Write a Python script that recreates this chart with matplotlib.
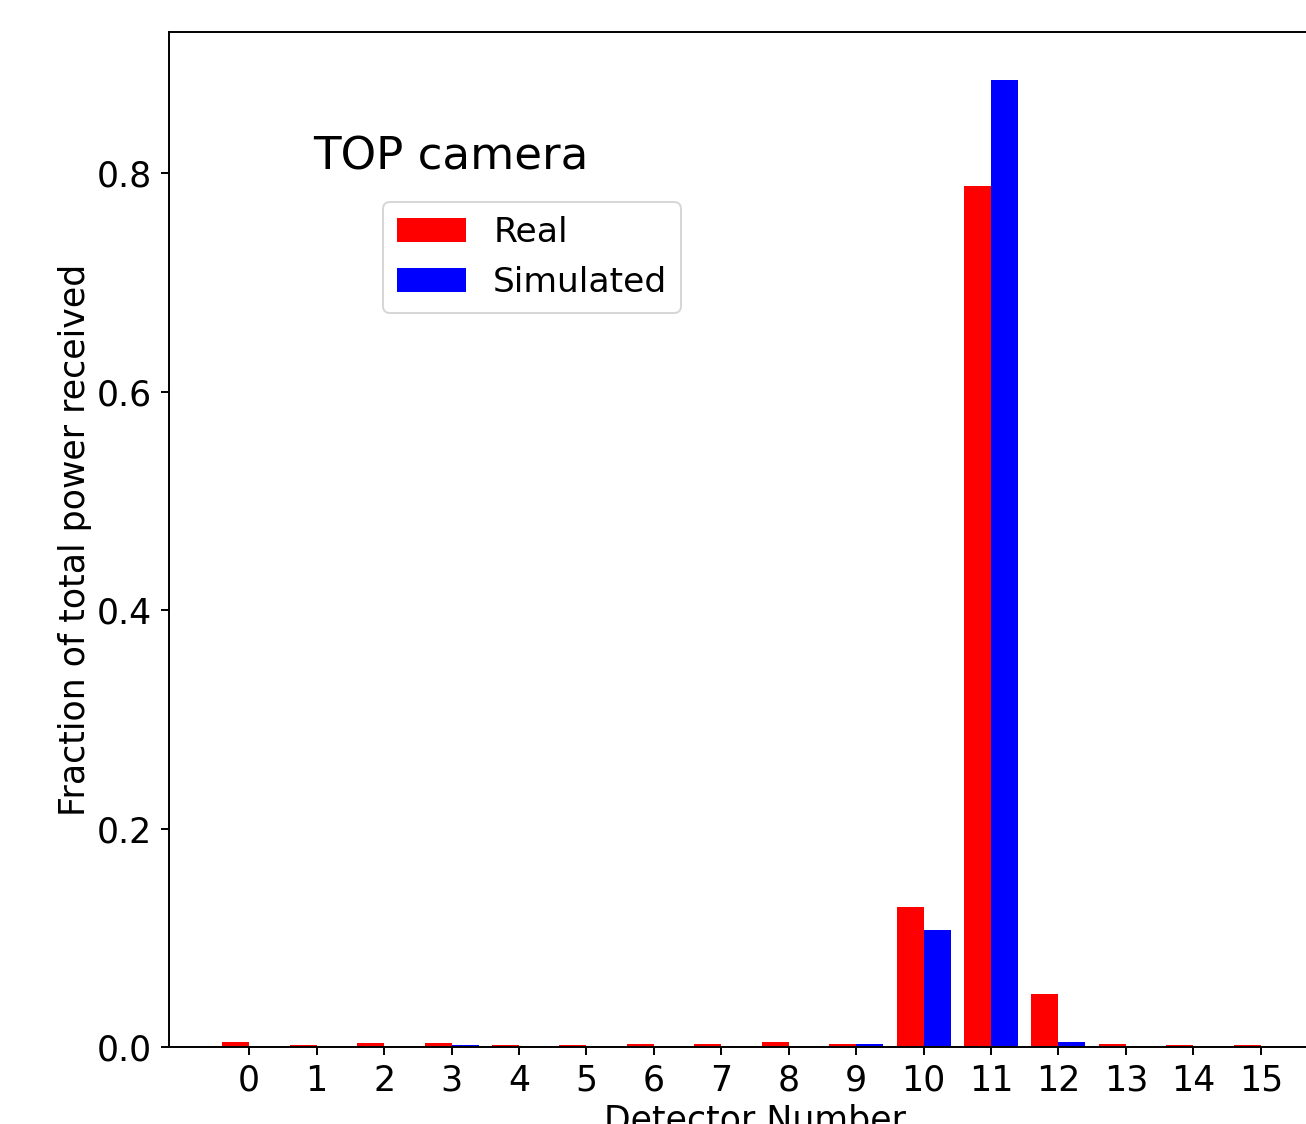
import matplotlib
matplotlib.use("Agg")
import matplotlib.pyplot as plt
import numpy as np

detectors = list(range(16))
real = [0.0046, 0.0020, 0.0035, 0.0035, 0.0020, 0.0015, 0.0030, 0.0030,
        0.0045, 0.0030, 0.128, 0.788, 0.0485, 0.0030, 0.0015, 0.0015]
simulated = [0.0, 0.0, 0.0, 0.0015, 0.0, 0.0, 0.0, 0.0,
             0.0, 0.0030, 0.107, 0.885, 0.0046, 0.0, 0.0, 0.0]
tick_labels = [str(d) for d in detectors]

W, H = 1306, 1124
fig = plt.figure(figsize=(W / 100, H / 100), dpi=100)
ax = fig.add_axes([169 / W, 77 / H, 1172 / W, 1015 / H])

x = np.arange(len(detectors))
width = 0.4
ax.bar(x - width / 2, real, width, color="red", label="Real")
ax.bar(x + width / 2, simulated, width, color="blue", label="Simulated")

ax.set_xticks(x)
ax.set_xticklabels(tick_labels)
ax.set_yticks([0.0, 0.2, 0.4, 0.6, 0.8])
ax.tick_params(labelsize=25, length=6, width=1.4, pad=6)
for s in ax.spines.values():
    s.set_linewidth(1.4)

ax.set_xlabel("Detector Number", fontsize=25)
ax.set_ylabel("Fraction of total power received", fontsize=25)

ax.text(0.94, 0.803, "TOP camera", fontsize=32.5, va="baseline", ha="left")

leg = ax.legend(loc="upper left", bbox_to_anchor=((383 - 169) / 1172, (1047 - 202) / 1015),
                borderaxespad=0, fontsize=24.8)
leg.get_frame().set_linewidth(1.4)

fig.savefig("out.png", dpi=100)
